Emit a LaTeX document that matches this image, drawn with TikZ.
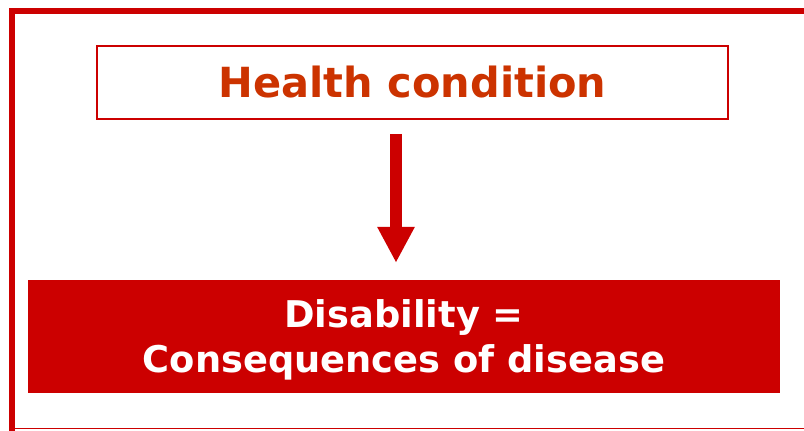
\documentclass[tikz,border=0pt]{standalone}
\usepackage{fontspec}
\setmainfont{DejaVu Sans}
\usetikzlibrary{arrows.meta,calc}
\definecolor{fr}{HTML}{CC0000}
\definecolor{txt}{HTML}{CC3300}
\begin{document}
\begin{tikzpicture}[x=1pt,y=-1pt,
  outlinebox/.style={draw=fr,line width=1.5pt,fill=white,minimum width=631pt,minimum height=73pt,inner sep=0pt,
    text=txt,font=\fontsize{41.5}{50}\selectfont\bfseries},
  filledbox/.style={fill=fr,minimum width=752pt,minimum height=113pt,inner sep=0pt},
  whitetext/.style={text=white,font=\fontsize{36.8}{45}\selectfont\bfseries,align=center,inner sep=0pt,anchor=base},
  bigarrow/.style={draw=fr,line width=12pt,-{Triangle[width=35pt,length=36pt,fill=fr]}}]
\useasboundingbox (0,0) rectangle (804,431);
\fill[white] (0,0) rectangle (804,431);
% frame
\fill[fr] (9,8) rectangle (804,14);
\fill[fr] (9,8) rectangle (15,431);
\draw[fr,line width=1.2pt] (15,428.8) -- (804,428.8);
% nodes
\node[outlinebox] (hc) at (412.5,82.5) {Health condition};
\node[filledbox] (dis) at (404,336.5) {};
\node[whitetext] (distext) at (404,372) {Disability =\\Consequences of disease};
\coordinate (as) at ($(hc.south)+(-16.5,14)$);
\coordinate (ae) at ($(dis.north)+(-8,-17)$);
\draw[bigarrow] (as) -- (ae);
\end{tikzpicture}
\end{document}
